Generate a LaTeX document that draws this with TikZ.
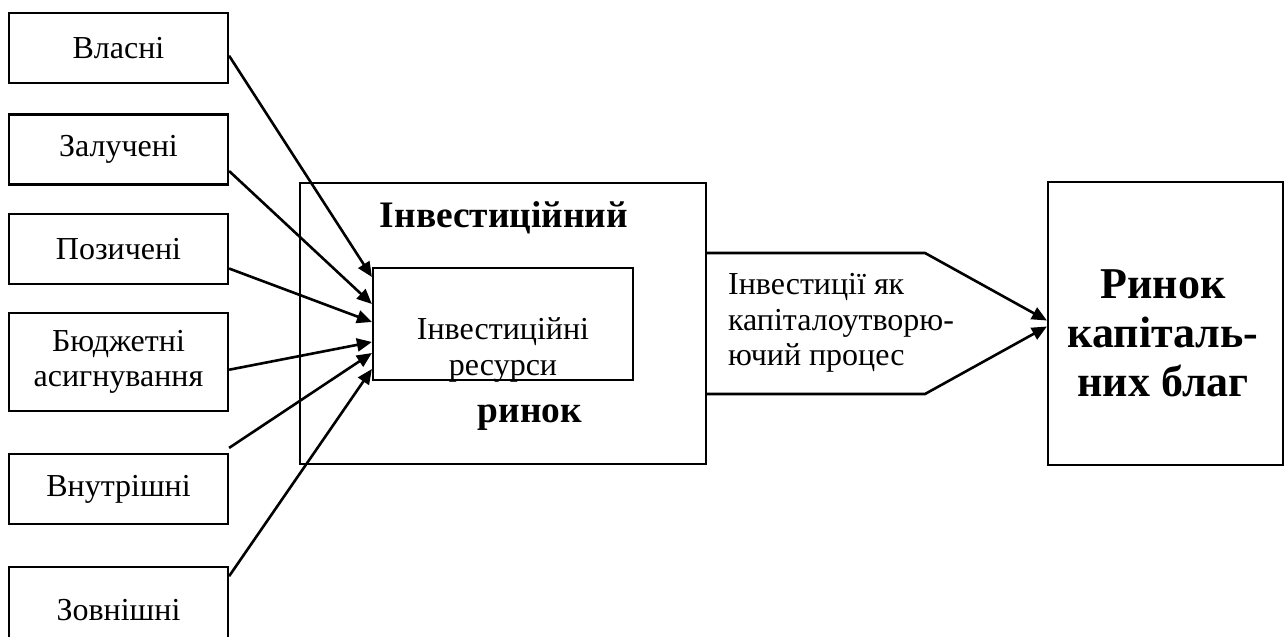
\documentclass[tikz,border=0pt]{standalone}
\usepackage{fontspec}
\setmainfont{Liberation Serif}
\usetikzlibrary{arrows.meta}

\begin{document}
\begin{tikzpicture}[x=0.5pt, y=-0.5pt, line width=1.1pt]
  \tikzstyle{every node} = [font=\fontsize{16pt}{17.8pt}\selectfont, align=center, inner sep=0pt];
  \tikzstyle{box} = [draw, shape=rectangle];
  \tikzstyle{src} = [box, minimum width=109.5pt, minimum height=35pt];
  \tikzstyle{head} = [font=\fontsize{18.7pt}{21pt}\selectfont\bfseries];
  \tikzstyle{big} = [font=\fontsize{22pt}{24.5pt}\selectfont\bfseries];
  \tikzstyle{arr} = [line width=1.3pt, -{Triangle[length=7.5pt, width=6.5pt]}];

  \useasboundingbox (0,0) rectangle (1285,637);

  % sources
  \node[src] (s1) at (118.5,48) {Власні};
  \node[src] (s2) at (118.5,149.5) {Залучені};
  \node[src] (s3) at (118.5,249) {Позичені};
  \node[src, minimum height=49pt] (s4) at (118.5,362) {Бюджетні\\асигнування};
  \node[src] (s5) at (118.5,489) {Внутрішні};
  \node[src, minimum height=43pt] (s6) at (118.5,610) {Зовнішні};

  % market
  \node[box, minimum width=203pt, minimum height=140.5pt] (mkt) at (503,323.5) {};
  \node[head] (mkt1) at (504,218) {Інвестиційний};
  \node[head] (mkt2) at (530,418) {ринок};
  \node[box, minimum width=130pt, minimum height=56pt] (res) at (503,324) {};
  \node (restxt) at (503,350) {Інвестиційні\\ресурси};

  % goods
  \node[box, minimum width=117.5pt, minimum height=141.5pt] (cap) at (1165.5,323.5) {};
  \node[big] (captxt) at (1163,333) {Ринок\\капіталь-\\них благ};
  \node[anchor=west, align=left] (proc) at (727,323) {Інвестиції як\\капіталоутворю-\\ючий процес};

  \draw[arr] (s1.-4) -- ([yshift=23.5pt]res.west);
  \draw[arr] (s2.-11) -- ([yshift=10pt]res.west);
  \draw[arr] (s3.-10) -- ([yshift=1pt]res.west);
  \draw[arr] (s4.-4) -- ([yshift=-9pt]res.west);
  \draw[arr] ([yshift=2.5pt]s5.north east) -- ([yshift=-14.5pt]res.west);
  \draw[arr] (s6.17) -- ([yshift=-22.5pt]res.west);

  \coordinate (up) at (925,253);
  \coordinate (dn) at (925,394);
  \draw[arr] ([yshift=35.25pt]mkt.east) -- (up) -- ([yshift=1.5pt]cap.west);
  \draw[arr] ([yshift=-35.25pt]mkt.east) -- (dn) -- ([yshift=-1.5pt]cap.west);
\end{tikzpicture}
\end{document}
